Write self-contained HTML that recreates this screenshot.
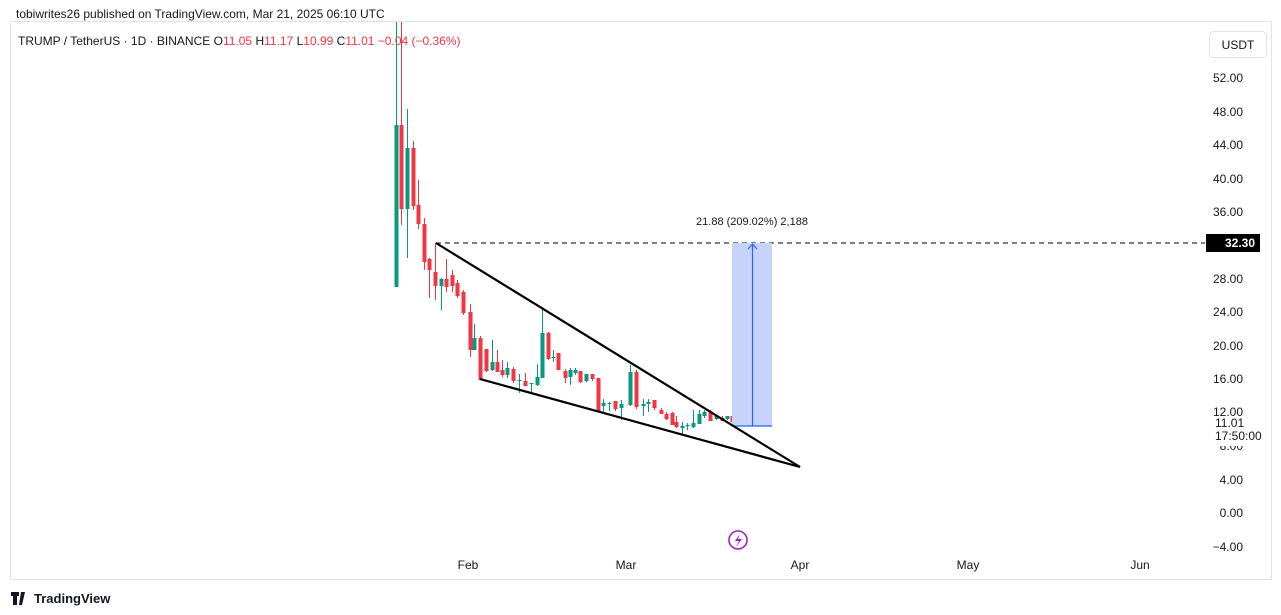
<!DOCTYPE html>
<html><head><meta charset="utf-8"><style>
body{margin:0;width:1281px;height:615px;background:#fff;overflow:hidden;font-family:"Liberation Sans",sans-serif}
svg{position:absolute;left:0;top:0}
</style></head><body>
<svg id="s" width="1281" height="615" xmlns="http://www.w3.org/2000/svg" font-family="Liberation Sans, sans-serif">
<rect x="0" y="0" width="1281" height="615" fill="#fff"/>
<text x="16" y="18" font-size="12" fill="#131722">tobiwrites26 published on TradingView.com, Mar 21, 2025 06:10 UTC</text>
<rect x="10.5" y="21.5" width="1261" height="558" fill="none" stroke="#e0e3eb"/>
<text x="18" y="45" font-size="12" fill="#131722">TRUMP / TetherUS · 1D · BINANCE <tspan fill="#131722">O</tspan><tspan fill="#f23645">11.05</tspan> <tspan>H</tspan><tspan fill="#f23645">11.17</tspan> <tspan>L</tspan><tspan fill="#f23645">10.99</tspan> <tspan>C</tspan><tspan fill="#f23645">11.01 −0.04 (−0.36%)</tspan></text>
<rect x="1209.5" y="31.5" width="57" height="26" rx="4" fill="#fff" stroke="#e0e3eb"/>
<text x="1238" y="49" font-size="12" text-anchor="middle" fill="#131722">USDT</text>
<g font-size="12" fill="#131722" text-anchor="end" id="yax"></g>
<g id="c"></g>
<line x1="436" y1="243" x2="1205" y2="243" stroke="#000" stroke-width="1" stroke-dasharray="5,4"/>
<rect x="732" y="243" width="40" height="183" fill="#c6d4fb"/>
<line x1="732" y1="426" x2="772" y2="426" stroke="#2962ff" stroke-width="1.2"/>
<line x1="752.5" y1="426" x2="752.5" y2="244" stroke="#2962ff" stroke-width="1.2"/>
<path d="M748 249 L752.5 244 L757 249" fill="none" stroke="#2962ff" stroke-width="1.2"/>
<line x1="436" y1="243" x2="800" y2="467" stroke="#000" stroke-width="2.2"/>
<line x1="480" y1="379" x2="800" y2="467" stroke="#000" stroke-width="2.2"/>
<text x="752" y="225" font-size="11" text-anchor="middle" fill="#131722">21.88 (209.02%) 2,188</text>
<rect x="1206" y="234" width="54" height="18" fill="#000"/>
<text x="1240" y="247" font-size="12" font-weight="bold" text-anchor="middle" fill="#fff">32.30</text>
<rect x="1206" y="418" width="60" height="28" fill="#fff"/>
<text x="1215" y="427" font-size="12" fill="#131722">11.01</text>
<text x="1215" y="440" font-size="12" fill="#131722">17:50:00</text>
<g font-size="12" fill="#131722" text-anchor="middle">
<text x="468" y="569">Feb</text><text x="626" y="569">Mar</text><text x="800" y="569">Apr</text><text x="968" y="569">May</text><text x="1140" y="569">Jun</text>
</g>
<circle cx="738" cy="540" r="9" fill="none" stroke="#9c27b0" stroke-width="1.6"/>
<path d="M740 534 L735 541 L739 541 L736 547 L742 539 L738 539 Z" fill="#9c27b0"/>
<path d="M11 592 h8 v4 h-2 v9 h-4 v-9 h-2z M21 592 h4 l-3 13 h-3z" fill="#131722"/>
<text x="34" y="603" font-size="13" font-weight="bold" fill="#131722">TradingView</text>
</svg>
<script>
var NS="http://www.w3.org/2000/svg";
function el(n,a,p){var e=document.createElementNS(NS,n);for(var k in a)e.setAttribute(k,a[k]);p.appendChild(e);return e;}
var y=document.getElementById('yax');
var v=[[52,78],[48,112],[44,145],[40,179],[36,212],[28,279],[24,312],[20,346],[16,379],[12,412],[8,446],[4,480],[0,513],[-4,547]];
v.forEach(function(t){var s=t[0]<0?"−"+Math.abs(t[0]).toFixed(2):t[0].toFixed(2);var e=el('text',{x:1243,y:t[1]+4},y);e.textContent=s;});
// x, wickTop, wickBot, bodyTop, bodyBot, green?
var C=[[396,22,287,125,287,1],[401,22,225,125,209,0],[407,109,258,148,209,1],[413,141,210,148,206,0],[418,180,229,205,224,0],[424,218,270,224,262,0],[429,258,298,259,270,0],[435,243,300,272,286,0],[441,278,310,279,286,1],[446,259,292,279,287,0],
[452,270,292,275,286,0],[457,280,298,283,296,0],[463,290,315,292,313,0],[470,304,357,312,350,0],[474,324,350,338,350,1],[480,336,380,338,380,0],[486,349,372,349,371,0],[492,340,371,362,370,1],[497,350,372,362,372,0],[502,360,377,370,375,0],[507,362,378,368,375,1],[513,367,383,369,381,0],[519,374,393,380,381,1],[525,373,385,381,386,0],[531,383,394,383,384,1],[537,364,386,377,385,1],[542,307,378,333,378,1],[548,332,360,333,359,0],[553,350,362,357,358,1],[558,353,370,353,370,0],[565,369,383,371,378,0],[570,368,385,370,377,1],[575,368,375,370,373,1],[580,371,383,371,382,0],[586,374,382,374,381,1],[592,374,381,374,379,0],[598,378,411,378,411,0],[603,399,412,403,406,1],[609,402,411,403,404,1],[615,401,411,401,409,0],[621,400,420,404,408,1],[630,365,406,372,405,1],[636,370,409,372,407,0],[643,399,416,404,406,1],[648,399,412,402,404,1],[654,400,410,400,408,0],[661,408,414,410,414,0],[666,412,420,414,419,0],[672,412,424,413,425,0],[676,416,428,422,427,0],[682,422,434,426,428,1],[687,423,430,425,426,1],[693,410,428,423,427,1],[699,410,424,414,424,1],[704,410,418,412,416,1],[710,410,421,412,421,0],[716,415,420,416,419,1],[722,416,421,418,421,0],[727,416,420,416,419,1],[732,415,422,416,422,0],[738,419,422,420,421,0]];
var g=document.getElementById('c');
C.forEach(function(c){var col=c[5]?'#089981':'#f23645';
el('line',{x1:c[0]+0.5,x2:c[0]+0.5,y1:c[1],y2:c[2],stroke:col,'stroke-width':1},g);
el('rect',{x:c[0]-1.5,y:c[3],width:4,height:Math.max(1,c[4]-c[3]),fill:col},g);});
</script>
</body></html>
